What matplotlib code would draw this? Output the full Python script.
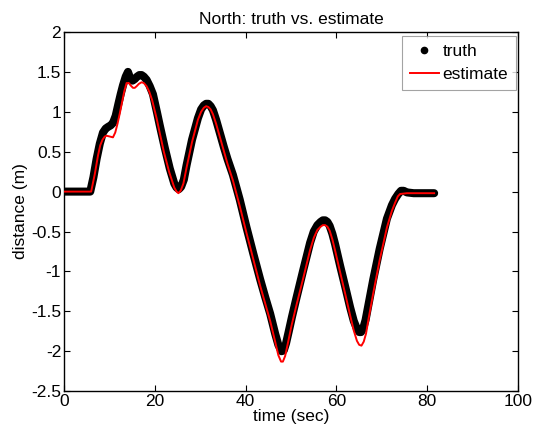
import matplotlib
matplotlib.use("Agg")
import matplotlib.pyplot as plt
from matplotlib.lines import Line2D

plt.rcParams['font.family'] = ['Liberation Sans', 'DejaVu Sans']
plt.rcParams['axes.unicode_minus'] = False

# truth (time sec, distance m)
t_truth = [0, 5.8, 6.5, 7.2, 7.9, 8.6, 9.2, 9.7, 10.3, 10.8, 11.4, 12, 12.5, 13, 13.6, 14.1,
           14.6, 15.1, 15.6, 16.1, 16.6, 17.1, 17.6, 18.2, 18.9, 19.6, 20.5,
           21.1, 22.2, 23.3, 24.3, 24.8, 25.3, 25.8, 26.4, 27, 28.2, 29.5, 30.2, 30.8, 31.3,
           31.8, 32.3, 32.8, 33.5, 34.4, 35.2, 36,
           37.2, 38.7, 40.2, 41.7, 43.2, 44.3, 45.4, 46.5, 47.2, 47.9, 48.4, 48.9, 49.5,
           50.2, 51.2, 52.7, 54.2, 55.0, 55.8, 56.5, 57.0, 57.5, 58.0, 58.5, 59.1, 59.7,
           60.8, 62, 63, 63.8, 64.5, 65.0, 65.4, 65.9, 66.4, 67.1, 68.1, 69.5,
           71.1, 72.2, 72.9, 73.6, 74.2, 74.8, 75.5, 77, 81.5]
y_truth = [0, 0, 0.18, 0.41, 0.60, 0.74, 0.79, 0.81, 0.83, 0.86, 0.95, 1.1, 1.22, 1.33, 1.44, 1.5,
           1.42, 1.39, 1.41, 1.44, 1.46, 1.46, 1.44, 1.40, 1.32, 1.22, 0.99,
           0.83, 0.55, 0.29, 0.10, 0.05, 0.03, 0.06, 0.15, 0.33, 0.65, 0.92, 1.03, 1.08, 1.10,
           1.10, 1.07, 1.02, 0.90, 0.72, 0.56, 0.41,
           0.21, -0.10, -0.45, -0.78, -1.10, -1.32, -1.53, -1.78, -1.92, -2.00, -1.99, -1.90, -1.75,
           -1.57, -1.33, -0.98, -0.64, -0.50, -0.42, -0.38, -0.36, -0.36, -0.38, -0.43, -0.53, -0.66,
           -0.93, -1.21, -1.45, -1.62, -1.72, -1.76, -1.76, -1.71, -1.61, -1.40, -1.10, -0.72,
           -0.34, -0.17, -0.09, -0.03, 0.01, 0.01, -0.01, -0.02, -0.02]

# estimate
t_est = [0, 6, 6.8, 7.5, 8.0, 8.5, 9.0, 9.4, 10.1, 10.8, 11.3, 11.8, 12.3, 12.8, 13.3, 13.8,
         14.3, 14.7, 15.2, 15.6, 16.0, 16.5, 17.1, 17.6, 18.2, 18.8, 19.4,
         20.4, 21.0, 22.0, 23.2, 24.3, 24.8, 25.2, 25.7, 26.3, 27, 28.2, 29.5, 30.2, 30.8, 31.3,
         31.8, 32.3, 32.8, 33.5, 34.4, 35.2, 36,
         37.2, 38.7, 40.2, 41.7, 43.2, 44.3, 45.4, 46.5, 47.2, 47.8, 48.2, 48.7, 49.3,
         50.1, 51.2, 52.7, 54.2, 55.0, 55.8, 56.5, 57.0, 57.5, 58.0, 58.5, 59.1, 59.7,
         60.8, 62, 63, 63.8, 64.5, 65.0, 65.5, 66.0, 66.5, 67.1, 68.1, 69.5,
         71.1, 72.2, 72.9, 73.5, 74.0, 75.5, 81.5]
y_est = [0, 0, 0.22, 0.45, 0.58, 0.65, 0.69, 0.70, 0.69, 0.68, 0.74, 0.85, 0.98, 1.12, 1.26, 1.36,
         1.36, 1.33, 1.30, 1.30, 1.32, 1.35, 1.37, 1.36, 1.32, 1.25, 1.15,
         0.92, 0.76, 0.50, 0.24, 0.05, 0.00, -0.02, 0.01, 0.10, 0.30, 0.62, 0.90, 1.00, 1.05, 1.07,
         1.06, 1.03, 0.97, 0.85, 0.67, 0.51, 0.35,
         0.14, -0.18, -0.52, -0.85, -1.18, -1.40, -1.62, -1.88, -2.05, -2.13, -2.13, -2.06, -1.90,
         -1.68, -1.42, -1.08, -0.73, -0.58, -0.48, -0.44, -0.42, -0.42, -0.44, -0.49, -0.60, -0.74,
         -1.01, -1.30, -1.55, -1.74, -1.87, -1.92, -1.93, -1.88, -1.78, -1.58, -1.27, -0.86,
         -0.45, -0.24, -0.14, -0.06, -0.03, -0.02, -0.02]

x_ticks = [0, 20, 40, 60, 80, 100]
y_ticks = [-2.5, -2, -1.5, -1, -0.5, 0, 0.5, 1, 1.5, 2]
y_tick_labels = ['-2.5', '-2', '-1.5', '-1', '-0.5', '0', '0.5', '1', '1.5', '2']

fig = plt.figure(figsize=(5.37, 4.38), dpi=100)
ax = fig.add_axes([0.119, 0.107, 0.846, 0.820])

ax.plot(t_truth, y_truth, color='black', lw=5.8, solid_capstyle='round',
        solid_joinstyle='round', zorder=2)
ax.plot(t_est, y_est, color='#ff0000', lw=1.4, zorder=3)

ax.set_xlim(0, 100)
ax.set_ylim(-2.5, 2)
ax.set_xticks(x_ticks)
ax.set_xticklabels([str(v) for v in x_ticks])
ax.set_yticks(y_ticks)
ax.set_yticklabels(y_tick_labels)
ax.tick_params(direction='in', top=True, right=True, length=4, width=0.8,
               labelsize=12.5, pad=2)
for s in ax.spines.values():
    s.set_linewidth(1.0)

ax.set_title('North: truth vs. estimate', fontsize=12.5, pad=6)
ax.set_xlabel('time (sec)', fontsize=12.5, labelpad=0)
ax.set_ylabel('distance (m)', fontsize=12.5, labelpad=2)

handles = [Line2D([], [], color='black', marker='.', ls='none', markersize=9),
           Line2D([], [], color='#ff0000', lw=1.4)]
leg = ax.legend(handles, ['truth', 'estimate'], loc='upper right', fontsize=12.5,
                frameon=True, fancybox=False, borderaxespad=0.0,
                bbox_to_anchor=(0.995, 0.988), handlelength=1.7,
                handletextpad=0.2, borderpad=0.45, labelspacing=0.45)
leg.get_frame().set_edgecolor('#8c8c8c')
leg.get_frame().set_linewidth(0.8)

fig.savefig('out.png', dpi=100)
